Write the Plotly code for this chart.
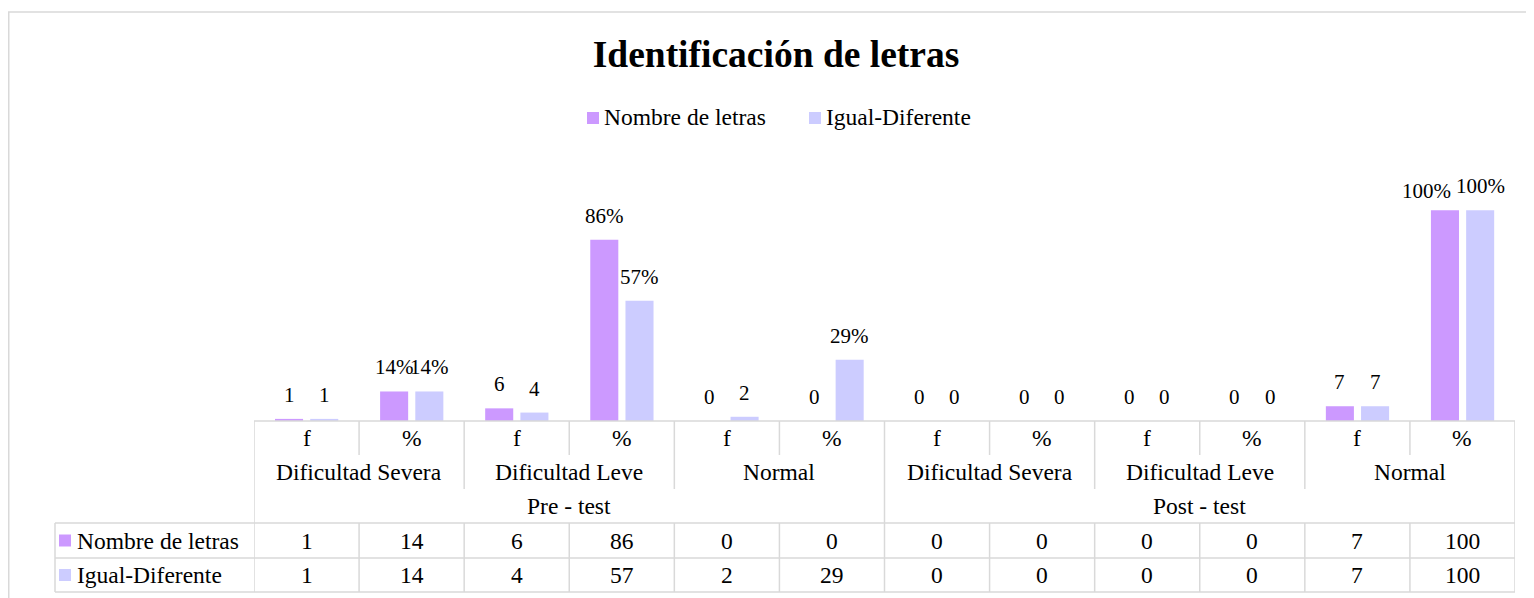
import plotly.graph_objects as go

tests = ["Pre - test", "Post - test"]
levels = ["Dificultad Severa", "Dificultad Leve", "Normal"]
units = ["f", "%"]
series_names = ["Nombre de letras", "Igual-Diferente"]
nombre = [1, 14, 6, 86, 0, 0, 0, 0, 0, 0, 7, 100]
igual = [1, 14, 4, 57, 2, 29, 0, 0, 0, 0, 7, 100]
colors = ["#CC99FF", "#CCCCFF"]

FONT = "Liberation Serif"
OFF = 8                      # page body margin
W, H = 1534 - OFF, 598 - OFF
L, R, T, B = 254, 1515, 168, 421   # plot area in page pixels
GRID = "#d9d9d9"

def px(x):
    return (x - L) / (R - L)

def py(y):
    return (B - y) / (B - T)

cats = [u for t in tests for l in levels for u in units]
xs = list(range(len(cats)))
series = [nombre, igual]
offsets = [-0.30, 0.035]
bw = 0.267
lbl = dict(size=21, color="#000")
txt = dict(size=23.5, color="#000")
# Excel pushed the crowded "100%" label left and a bit down
nudge = {(0, 11): (-18, -5)}

fig = go.Figure()
annots = []
shapes = []
for s, name in enumerate(series_names):
    fig.add_trace(go.Bar(x=xs, y=series[s], name=name, width=bw, offset=offsets[s],
                         marker=dict(color=colors[s], line_width=0), showlegend=False))
    for i, v in enumerate(series[s]):
        lab = f"{v}%" if cats[i] == "%" and v else f"{v}"
        dx, dy = nudge.get((s, i), (0, 0))
        annots.append(dict(x=i + offsets[s] + bw / 2, y=v, xref="x", yref="y", text=lab,
                           showarrow=False, yanchor="bottom", yshift=10 + dy, xshift=dx, font=lbl))

# table rows (page pixels)
rows = [421, 455, 489, 523, 558, 592]

def cell(x, y, text, xref="x", xanchor="center"):
    annots.append(dict(x=x, y=py(y), xref=xref, yref="paper", text=text, showarrow=False,
                       xanchor=xanchor, yanchor="middle", font=txt))

for i, c in enumerate(cats):
    cell(i, (rows[0] + rows[1]) / 2, c)
    for s in range(2):
        cell(i, (rows[3 + s] + rows[4 + s]) / 2, str(series[s][i]))
for t, tn in enumerate(tests):
    cell(t * 6 + 2.5, (rows[2] + rows[3]) / 2, tn)
    for l, ln in enumerate(levels):
        cell(t * 6 + l * 2 + 0.5, (rows[1] + rows[2]) / 2, ln)

line = dict(color=GRID, width=1.5)
# vertical lines
for k in range(len(cats) + 1):
    xb = k - 0.5
    if k in (0, 6, 12):
        shapes.append(dict(type="line", xref="x", yref="paper", x0=xb, x1=xb,
                           y0=py(rows[0]), y1=py(rows[5]), line=line))
        continue
    depth = rows[2] if k % 2 == 0 else rows[1]
    shapes.append(dict(type="line", xref="x", yref="paper", x0=xb, x1=xb,
                       y0=py(rows[0]), y1=py(depth), line=line))
    shapes.append(dict(type="line", xref="x", yref="paper", x0=xb, x1=xb,
                       y0=py(rows[3]), y1=py(rows[5]), line=line))
# left border of row headers
shapes.append(dict(type="line", xref="paper", yref="paper", x0=px(55), x1=px(55),
                   y0=py(rows[3]), y1=py(rows[5]), line=line))
# horizontal lines
shapes.append(dict(type="line", xref="x", yref="paper", x0=-0.5, x1=11.5,
                   y0=py(rows[0]), y1=py(rows[0]), line=line))
for r in rows[3:]:
    shapes.append(dict(type="line", xref="paper", yref="paper", x0=px(55), x1=1,
                       y0=py(r), y1=py(r), line=line))
# row header keys
for s, name in enumerate(series_names):
    yc = (rows[3 + s] + rows[4 + s]) / 2
    shapes.append(dict(type="rect", xref="paper", yref="paper", x0=px(59), x1=px(71),
                       y0=py(yc + 6), y1=py(yc - 6), fillcolor=colors[s], line_width=0))
    cell(px(75), yc, name, xref="paper", xanchor="left")

# top legend
leg_x = [587, 809]
for s, name in enumerate(series_names):
    shapes.append(dict(type="rect", xref="paper", yref="paper", x0=px(leg_x[s]), x1=px(leg_x[s] + 12),
                       y0=py(124), y1=py(112), fillcolor=colors[s], line_width=0))
    annots.append(dict(x=px(leg_x[s] + 15), y=py(117), xref="paper", yref="paper", text=name,
                       xanchor="left", yanchor="middle", showarrow=False,
                       font=dict(size=23.5, color="#000")))

# chart frame
shapes.append(dict(type="rect", xref="paper", yref="paper", x0=px(OFF + 0.75), x1=px(1545),
                   y0=py(620), y1=py(12), line=dict(color=GRID, width=1.5),
                   fillcolor="rgba(0,0,0,0)", layer="below"))

fig.update_layout(
    width=W, height=H,
    margin=dict(l=L - OFF, r=W - (R - OFF), t=T - OFF, b=H - (B - OFF), autoexpand=False),
    paper_bgcolor="white", plot_bgcolor="white",
    font=dict(family=FONT, color="#000"),
    title=dict(text="<b>Identificación de letras</b>", font=dict(size=37.5, family=FONT, color="#000"),
               x=(776 - OFF) / W, xref="container", xanchor="center",
               y=1 - (54 - OFF) / H, yref="container", yanchor="middle"),
    barmode="overlay",
    xaxis=dict(range=[-0.5, 11.5], showticklabels=False, showgrid=False, zeroline=False,
               showline=False, ticks=""),
    yaxis=dict(range=[0, 120], visible=False, showgrid=False, zeroline=False),
    annotations=annots, shapes=shapes,
)

fig.write_html("out.html")
